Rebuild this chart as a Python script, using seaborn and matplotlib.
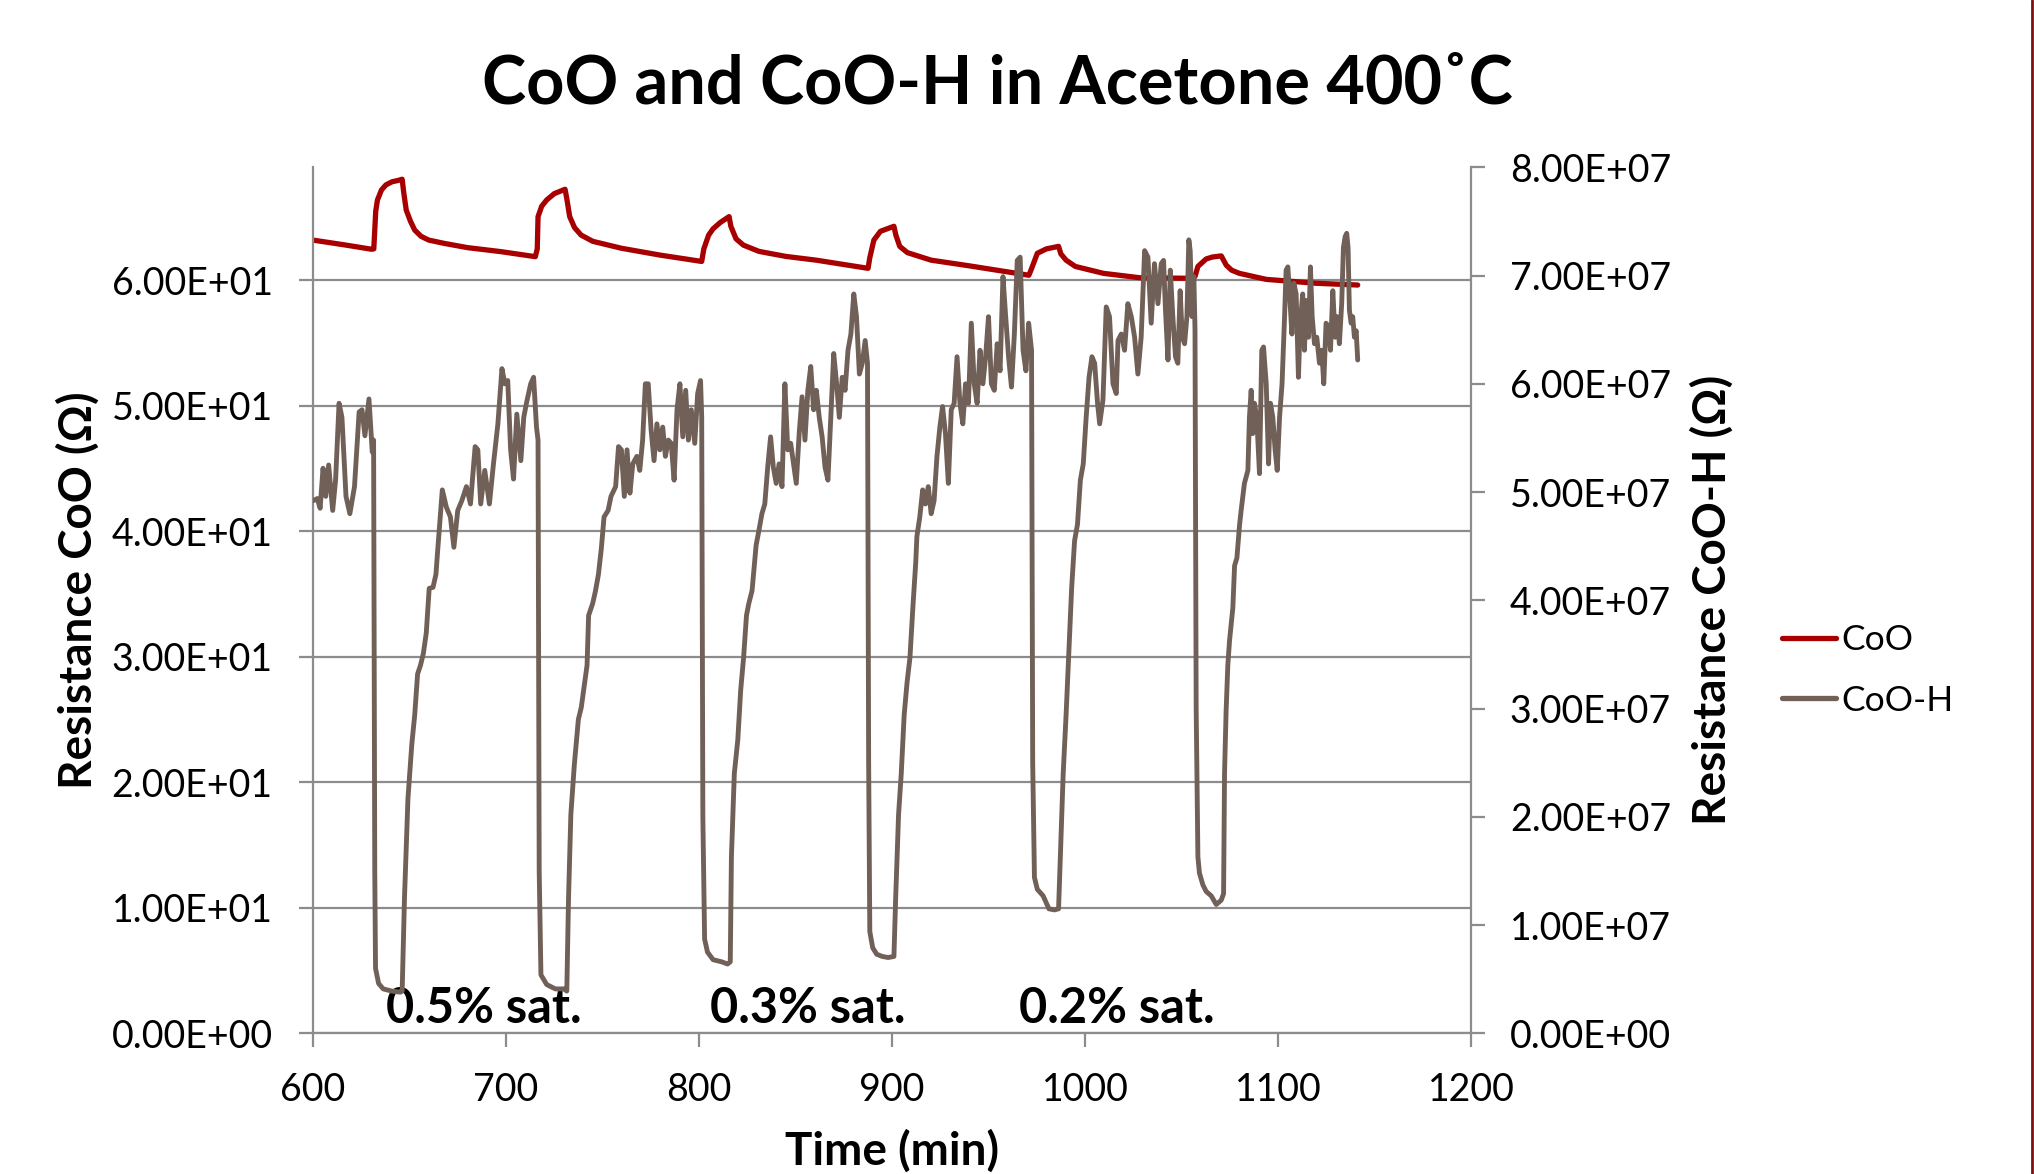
import numpy as np
import pandas as pd
import matplotlib
matplotlib.use("Agg")
import matplotlib.pyplot as plt
import seaborn as sns
from matplotlib.ticker import FixedLocator, FormatStrFormatter
from matplotlib.lines import Line2D

# ---------------- data ----------------
coo_time = [600.0, 617.1, 630.4, 631.5, 632.5, 633.4, 635.5, 637.8, 641.0, 644.0, 646.2,
            647.0, 648.3, 650.5, 652.7, 656.0, 660.0, 667.6, 680.0, 697.4, 715.2,
            716.2, 716.6, 718.5, 721.1, 725.0, 730.6, 731.5, 733.0, 735.5, 738.9, 745.0,
            759.8, 780.0, 801.4, 802.5, 805.0, 807.3, 811.0, 815.6, 816.5, 819.2, 823.0,
            831.1, 845.0, 860.8, 887.6, 888.5, 890.6, 894.0, 901.0, 902.0, 904.0, 908.0,
            920.3, 940.0, 970.9, 972.0, 975.3, 980.0, 986.3, 987.5, 990.2, 995.0,
            1009.6, 1028.3, 1052.4, 1057.0, 1058.5, 1062.8, 1066.0, 1070.6, 1073.2,
            1076.0, 1080.0, 1093.9, 1119.8, 1141.3]
coo_res = [63.2, 62.8, 62.47, 62.5, 65.5, 66.4, 67.2, 67.6, 67.85, 67.95, 68.05,
           67.0, 65.6, 64.7, 64.0, 63.5, 63.2, 62.95, 62.6, 62.28, 61.88,
           62.5, 65.07, 65.9, 66.4, 66.9, 67.25, 66.5, 65.07, 64.2, 63.6, 63.1,
           62.55, 62.0, 61.5, 62.5, 63.6, 64.1, 64.6, 65.07, 64.3, 63.3, 62.8,
           62.3, 61.9, 61.6, 60.95, 61.8, 63.2, 63.9, 64.3, 63.6, 62.7, 62.2,
           61.6, 61.15, 60.4, 60.8, 62.15, 62.5, 62.7, 62.1, 61.6, 61.1,
           60.55, 60.2, 60.16, 60.3, 61.1, 61.7, 61.85, 61.94, 61.2,
           60.8, 60.55, 60.07, 59.76, 59.62]

cooh_time = [
    600.1, 602.2, 603.7, 605.2, 606.6, 608.1, 610.2, 611.7, 613.5, 615.0, 617.1, 619.1,
    621.5, 623.9, 625.4, 626.9, 629.0, 630.7, 631.4,
    632.0, 632.4, 634.0, 636.4, 640.8, 645.3, 646.2,
    647.4, 649.2, 651.2, 652.7, 654.2, 655.7, 657.2, 658.7, 660.2, 662.2, 663.7, 664.6,
    667.0, 669.1, 671.2, 673.0, 675.0, 677.1, 679.5, 681.6, 684.0, 685.4, 686.9, 689.0,
    691.4, 693.5, 695.8, 697.9, 699.4, 700.9, 702.4, 703.9, 705.6, 707.7, 709.2, 710.7,
    712.8, 714.3, 715.8, 716.6,
    717.2, 718.1, 721.1, 725.6, 730.0, 731.5,
    732.4, 733.6, 735.4, 737.5, 739.0, 742.0, 742.8, 744.9, 746.4, 747.9, 749.4,
    750.8, 752.9, 754.4, 756.8, 758.3, 759.8, 761.3, 762.7, 764.2, 765.7, 767.8, 769.3,
    770.8, 772.2, 773.7, 775.2, 776.7, 778.2, 779.7, 781.2, 782.6, 784.1, 785.6, 787.1,
    788.6, 790.1, 791.6, 793.1, 794.5, 796.0, 797.8, 799.3, 800.8, 801.4,
    802.0, 802.9, 804.4, 807.3, 811.8, 814.8, 816.2,
    816.8, 818.3, 820.1, 821.6, 823.1, 824.6, 825.8, 827.5, 829.6, 831.1,
    832.6, 834.1, 835.6, 837.1, 838.5, 840.0, 841.5, 843.0, 844.5, 846.0, 847.5, 849.0,
    850.4, 851.9, 853.4, 854.9, 856.4, 857.9, 859.4, 860.8, 862.3, 863.8, 865.3, 866.8,
    868.3, 869.8, 871.3, 872.7, 874.2, 875.7, 877.2, 878.7, 880.2, 881.6, 883.1, 884.6,
    886.1, 887.3,
    887.9, 888.5, 890.0, 892.1, 895.0, 898.0, 901.0,
    901.9, 903.4, 904.8, 906.3, 907.8, 909.3, 910.8, 912.3, 912.9,
    914.4, 915.9, 917.3, 918.8, 920.3, 921.8, 923.3, 924.8, 926.2, 927.7, 929.2, 930.7,
    932.2, 933.7, 935.2, 936.7, 938.1, 939.6, 941.1, 942.6, 944.1, 945.6, 947.1, 948.5,
    950.0, 951.5, 953.0, 954.5, 956.0, 957.5, 958.9, 960.4, 961.9, 963.4, 964.9, 966.4,
    967.9, 969.4, 970.8, 972.3,
    972.9, 973.8, 975.3, 978.3, 981.3, 984.2, 986.3,
    987.2, 988.7, 990.2, 991.7, 993.1, 994.6, 996.1, 997.6, 999.1, 1000.6, 1002.1, 1003.6,
    1005.0, 1006.5,
    1007.6, 1009.3, 1011.0, 1012.7, 1014.5, 1016.2, 1017.1, 1018.8, 1020.5, 1022.2, 1024.0,
    1025.7, 1027.4, 1029.1, 1030.9, 1032.6, 1034.3, 1036.0, 1037.8, 1039.5, 1040.7, 1041.7,
    1043.0, 1044.2, 1045.5, 1046.9, 1048.1, 1049.3, 1050.4, 1051.6, 1052.8, 1053.8, 1054.5,
    1055.5, 1056.4, 1057.0,
    1057.6, 1058.5, 1059.3, 1061.1, 1062.8, 1065.4, 1068.0, 1070.6, 1071.8,
    1072.3, 1073.1, 1074.0, 1074.9, 1076.6, 1077.5, 1078.7, 1080.1, 1080.9, 1082.6, 1084.4,
    1085.2, 1086.1, 1086.9, 1087.8, 1089.0, 1090.4, 1091.6, 1092.5, 1093.9, 1095.1, 1096.1,
    1097.3, 1098.5, 1099.6, 1100.8, 1102.1, 1103.4, 1104.2, 1105.1, 1105.9, 1107.2, 1108.2,
    1109.4, 1110.6, 1111.5, 1112.8, 1113.7, 1114.6, 1115.8, 1116.8, 1117.7, 1118.9, 1120.1,
    1121.5, 1122.7, 1123.7, 1124.9, 1126.1, 1127.2, 1128.4, 1129.6, 1130.6, 1131.8, 1133.0,
    1133.9, 1134.8, 1135.6, 1136.3, 1137.0, 1137.9, 1138.7, 1139.6, 1140.5, 1141.3]
cooh_res_1e7 = [
    4.92, 4.94, 4.85, 5.22, 4.96, 5.25, 4.83, 5.11, 5.82, 5.69, 4.96, 4.80,
    5.05, 5.74, 5.76, 5.52, 5.86, 5.37, 5.48,
    1.50, 0.60, 0.46, 0.41, 0.39, 0.38, 0.39,
    1.25, 2.17, 2.67, 2.94, 3.32, 3.40, 3.51, 3.70, 4.11, 4.12, 4.24, 4.46,
    5.02, 4.86, 4.77, 4.49, 4.83, 4.92, 5.05, 4.89, 5.42, 5.39, 4.89, 5.20,
    4.89, 5.26, 5.63, 6.14, 6.00, 6.03, 5.39, 5.12, 5.72, 5.29, 5.69, 5.83,
    6.00, 6.06, 5.60, 5.48,
    1.50, 0.54, 0.45, 0.41, 0.41, 0.39,
    1.25, 2.02, 2.48, 2.90, 3.01, 3.40, 3.86, 3.97, 4.09, 4.24, 4.48,
    4.77, 4.83, 4.96, 5.05, 5.42, 5.39, 4.96, 5.39, 4.99, 5.26, 5.33, 5.20,
    5.48, 6.00, 6.00, 5.57, 5.29, 5.63, 5.39, 5.60, 5.33, 5.48, 5.45, 5.11,
    5.76, 6.00, 5.51, 5.94, 5.48, 5.76, 5.45, 5.91, 6.03, 5.69,
    2.00, 0.87, 0.75, 0.68, 0.66, 0.64, 0.66,
    1.63, 2.40, 2.71, 3.17, 3.47, 3.86, 3.97, 4.09, 4.51, 4.65,
    4.80, 4.89, 5.23, 5.51, 5.23, 5.08, 5.26, 5.05, 6.00, 5.39, 5.45, 5.26,
    5.08, 5.54, 5.88, 5.48, 5.94, 6.16, 5.76, 5.94, 5.69, 5.51, 5.23, 5.11,
    5.69, 6.28, 6.00, 5.69, 6.06, 5.94, 6.31, 6.46, 6.83, 6.62, 6.09, 6.19,
    6.40, 6.19,
    2.50, 0.94, 0.79, 0.73, 0.71, 0.70, 0.71,
    1.25, 2.02, 2.40, 2.94, 3.24, 3.47, 3.93, 4.35, 4.59,
    4.77, 5.02, 4.89, 5.05, 4.80, 4.92, 5.33, 5.60, 5.79, 5.54, 5.08, 5.76,
    5.82, 6.25, 5.82, 5.63, 6.00, 5.82, 6.56, 6.00, 5.82, 6.31, 6.00, 6.25,
    6.62, 6.00, 5.94, 6.37, 6.12, 6.99, 6.62, 6.25, 5.97, 6.46, 7.14, 7.17,
    6.31, 6.12, 6.56, 6.31,
    2.50, 1.44, 1.33, 1.27, 1.15, 1.14, 1.15,
    1.63, 2.40, 2.94, 3.55, 4.12, 4.55, 4.70, 5.11, 5.26, 5.69, 6.06, 6.25,
    6.19, 5.82,
    5.63, 5.85, 6.71, 6.62, 6.00, 5.91, 6.40, 6.46, 6.31, 6.74, 6.62,
    6.43, 6.09, 6.43, 7.23, 7.17, 6.56, 7.11, 6.74, 7.11, 7.14, 6.68,
    6.22, 7.05, 6.62, 6.25, 6.19, 6.86, 6.43, 6.37, 6.62, 7.33, 7.23,
    6.62, 6.99, 6.50,
    3.00, 1.63, 1.48, 1.37, 1.31, 1.27, 1.19, 1.23, 1.29,
    2.40, 2.97, 3.40, 3.63, 3.93, 4.32, 4.39, 4.70, 4.83, 5.08, 5.20,
    5.69, 5.94, 5.54, 5.82, 5.69, 5.17, 6.31, 6.34, 6.00, 5.26, 5.82,
    5.69, 5.39, 5.20, 5.69, 6.00, 6.62, 7.05, 7.08, 6.86, 6.46, 6.93,
    6.83, 6.06, 6.56, 6.83, 6.31, 6.77, 6.43, 7.08, 6.62, 6.37, 6.43,
    6.19, 6.31, 6.00, 6.56, 6.53, 6.31, 6.86, 6.43, 6.62, 6.37, 6.74,
    7.26, 7.36, 7.39, 7.26, 6.68, 6.56, 6.62, 6.43, 6.49, 6.22]

x_ticks = [600, 700, 800, 900, 1000, 1100, 1200]
left_ticks = [0, 10, 20, 30, 40, 50, 60]
right_ticks = [0, 1e7, 2e7, 3e7, 4e7, 5e7, 6e7, 7e7, 8e7]
annot_labels = ["0.5% sat.", "0.3% sat.", "0.2% sat."]
annot_x = [638.0, 805.5, 966.0]
annot_y = [1.95, 1.95, 1.95]

# ---------------- styling ----------------
RED = "#A80000"
BROWN = "#706058"
GRID = "#8C8C8C"
W, H = 2034, 1174

sns.set_theme(style="white")
plt.rcParams["font.family"] = ["Lato", "DejaVu Sans"]
plt.rcParams["text.color"] = "black"
plt.rcParams["axes.labelcolor"] = "black"

coo_df = pd.DataFrame({"time": coo_time, "res": coo_res})
cooh_df = pd.DataFrame({"time": cooh_time, "res": np.array(cooh_res_1e7) * 1e7})

fig = plt.figure(figsize=(W / 100, H / 100), dpi=100)
fig.patch.set_facecolor("white")
x0, x1, y0, y1 = 313, 1471, 1033.3, 167.3
ax = fig.add_axes([x0 / W, 1 - y0 / H, (x1 - x0) / W, (y0 - y1) / H])
ax2 = ax.twinx()

sns.lineplot(data=coo_df, x="time", y="res", ax=ax, color=RED, lw=3.8,
             estimator=None, sort=False, legend=False)
sns.lineplot(data=cooh_df, x="time", y="res", ax=ax2, color=BROWN, lw=3.5,
             estimator=None, sort=False, legend=False)

ax.set_xlim(600, 1200)
ax.set_ylim(0, 69.0)
ax2.set_ylim(0, 8e7)

ax.xaxis.set_major_locator(FixedLocator(x_ticks))
ax.yaxis.set_major_locator(FixedLocator(left_ticks))
ax2.yaxis.set_major_locator(FixedLocator(right_ticks))
ax.yaxis.set_major_formatter(FormatStrFormatter("%.2E"))
ax2.yaxis.set_major_formatter(FormatStrFormatter("%.2E"))

ax.grid(False)
ax2.grid(False)
ax.yaxis.grid(True, color=GRID, lw=1.6)
ax.set_axisbelow(True)

for a in (ax, ax2):
    a.set_xlabel("")
    a.set_ylabel("")
    a.set_facecolor("none")
    a.spines["top"].set_visible(False)
    for s in ("left", "right", "bottom"):
        a.spines[s].set_color(GRID)
        a.spines[s].set_linewidth(1.6)

ax.spines["right"].set_visible(False)
ax2.spines["left"].set_visible(False)
ax2.spines["bottom"].set_visible(False)

TICK_FS = 27
ax.tick_params(axis="x", bottom=True, direction="out", length=10, width=1.6,
               color=GRID, pad=18, labelsize=TICK_FS, labelcolor="black")
ax.tick_params(axis="y", left=True, direction="out", length=10, width=1.6,
               color=GRID, pad=19, labelsize=TICK_FS, labelcolor="black")
ax2.tick_params(axis="y", right=True, direction="out", length=10, width=1.6,
                color=GRID, pad=18, labelsize=TICK_FS, labelcolor="black")

for lbl, xx, yy in zip(annot_labels, annot_x, annot_y):
    ax.text(xx, yy, lbl, fontsize=35, fontweight="bold", ha="left", va="center",
            color="black")

fig.text(997 / W, 1 - 84 / H, "CoO and CoO-H in Acetone 400˚C", fontsize=48,
         fontweight="bold", ha="center", va="center", color="black")
fig.text(892 / W, 1 - 1151 / H, "Time (min)", fontsize=33, fontweight="bold",
         ha="center", va="center", color="black")
fig.text(78 / W, 1 - 590 / H, "Resistance CoO (Ω)", fontsize=33, fontweight="bold",
         ha="center", va="center", rotation=90, color="black")
fig.text(1712 / W, 1 - 600 / H, "Resistance CoO-H (Ω)", fontsize=33, fontweight="bold",
         ha="center", va="center", rotation=90, color="black")

handles = [Line2D([0], [0], color=RED, lw=3.8), Line2D([0], [0], color=BROWN, lw=3.8)]
fig.legend(handles, ["CoO", "CoO-H"], loc="center left",
           bbox_to_anchor=(1782 / W, 1 - 670.5 / H), frameon=False, fontsize=25.5,
           handlelength=1.52, handletextpad=0.15, labelspacing=0.8,
           borderpad=0, borderaxespad=0, labelcolor="black")

fig.add_artist(Line2D([0.9992, 0.9992], [0, 1], transform=fig.transFigure,
                      color="#7F1010", lw=2))

fig.savefig("out.png", dpi=100, facecolor="white")
